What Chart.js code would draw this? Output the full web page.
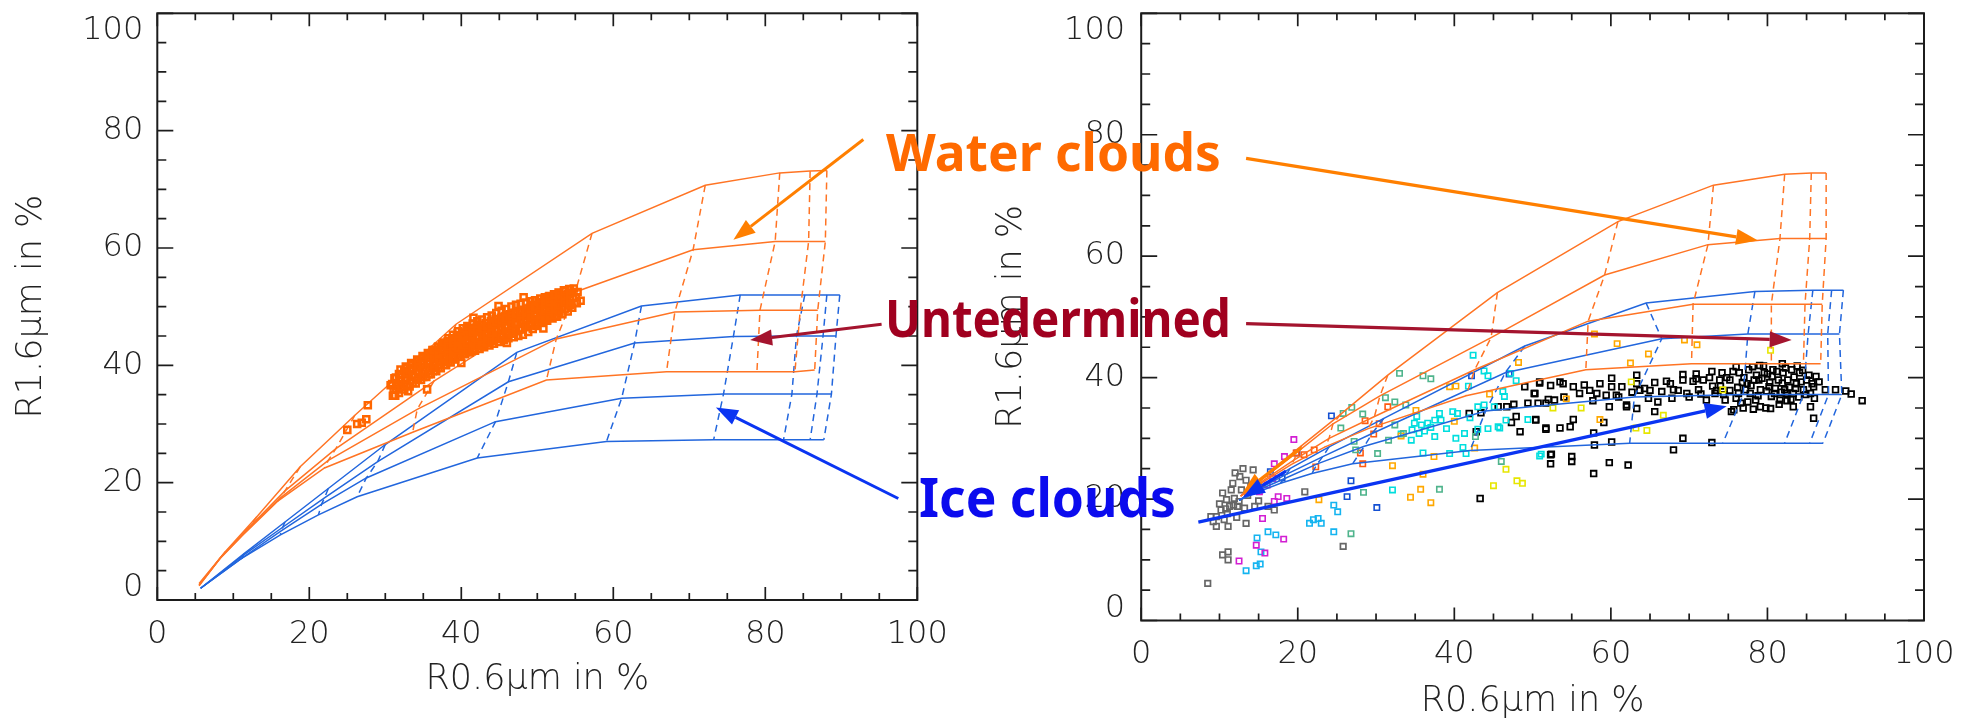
<!DOCTYPE html>
<html>
<head>
<meta charset="utf-8">
<script src="https://cdn.jsdelivr.net/npm/chart.js@4/dist/chart.umd.min.js"></script>
<style>
  html, body { margin:0; padding:0; background:#ffffff; width:1977px; height:720px; overflow:hidden; }
  #c1 { position:absolute; left:0; top:0; }
  #c2 { position:absolute; left:980px; top:0; }
  .lab { position:absolute; font-family:"Noto Sans", sans-serif; font-weight:700; white-space:nowrap; line-height:1; }
</style>
</head>
<body>
<canvas id="c1" width="980" height="720"></canvas>
<canvas id="c2" width="997" height="720"></canvas>
<script>
// ---------------- DATA ----------------
const tickValues = [0, 20, 40, 60, 80, 100];
const minorStep = 5;
const xTitle = 'R0.6\u03bcm in %';
const yTitle = 'R1.6\u03bcm in %';

// Left panel look-up table (solid: one radius per row; dashed: same column across rows)
const leftWaterX = [
  [5.5, 9.0, 13.1, 18.8, 26.0, 39.3, 57.2, 72.1, 81.9, 85.9, 88.1],
  [5.5, 8.5, 11.8, 16.8, 23.5, 36.4, 55.0, 70.5, 81.3, 85.7, 87.9],
  [5.5, 8.3, 11.4, 16.2, 22.5, 34.2, 52.5, 68.1, 79.3, 84.6, 86.9],
  [5.5, 8.2, 11.2, 15.8, 22.0, 33.6, 51.2, 67.0, 78.9, 83.9, 86.5]
];
const leftWaterY = [
  [2.8, 8.3, 14.2, 22.7, 31.5, 47.0, 62.5, 70.7, 72.8, 73.1, 73.2],
  [2.6, 7.5, 12.0, 18.6, 25.8, 37.3, 52.5, 59.7, 61.1, 61.1, 61.1],
  [2.5, 7.2, 11.4, 17.4, 23.8, 32.5, 44.5, 49.1, 49.4, 49.4, 49.4],
  [2.4, 7.0, 11.0, 16.8, 22.5, 28.6, 37.5, 38.9, 38.9, 38.9, 39.2]
];
const leftIceX = [
  [5.7, 11.5, 16.8, 22.5, 30.0, 47.3, 63.7, 76.7, 85.2, 88.1, 89.8],
  [5.7, 11.3, 16.5, 22.0, 29.0, 46.2, 62.8, 75.8, 84.1, 87.6, 89.3],
  [5.7, 11.2, 16.3, 21.6, 27.5, 44.5, 61.1, 74.5, 83.5, 86.8, 88.7],
  [5.7, 11.0, 16.2, 21.2, 26.3, 42.1, 59.1, 73.2, 82.4, 85.9, 87.7]
];
const leftIceY = [
  [2.0, 8.0, 13.3, 19.0, 26.5, 42.2, 50.1, 52.0, 52.0, 52.0, 52.0],
  [2.0, 7.6, 12.4, 17.4, 23.6, 37.2, 43.8, 44.9, 45.0, 45.0, 45.0],
  [2.0, 7.2, 11.8, 16.3, 20.8, 30.4, 34.4, 35.1, 35.1, 35.1, 35.1],
  [2.0, 7.0, 11.1, 14.5, 17.6, 24.2, 27.0, 27.3, 27.3, 27.3, 27.3]
];

// Right panel look-up table
const rightWaterX = [
  [12.7, 16.5, 20.5, 25.5, 31.5, 45.5, 60.9, 73.1, 82.2, 85.6, 87.5],
  [12.7, 16.2, 20.0, 24.5, 30.5, 44.7, 59.2, 72.4, 81.6, 85.4, 87.5],
  [12.7, 16.0, 19.5, 24.0, 29.8, 42.6, 57.1, 70.5, 80.5, 84.8, 87.0],
  [12.7, 15.8, 19.2, 23.5, 29.0, 41.5, 56.8, 70.3, 80.5, 84.6, 86.8]
];
const rightWaterY = [
  [20.5, 24.6, 28.8, 34.0, 40.4, 54.0, 65.7, 71.7, 73.5, 73.7, 73.7],
  [20.5, 24.0, 27.8, 32.4, 37.0, 46.6, 56.9, 61.9, 62.9, 62.9, 62.9],
  [20.5, 23.4, 26.4, 30.0, 33.6, 41.3, 49.3, 52.1, 52.1, 52.1, 52.1],
  [20.5, 23.0, 25.7, 28.6, 31.6, 37.0, 41.3, 42.3, 42.3, 42.3, 42.3]
];
const rightIceX = [
  [12.5, 15.5, 19.0, 24.0, 31.0, 49.0, 64.5, 78.4, 85.8, 88.2, 89.7],
  [12.5, 15.3, 18.6, 23.2, 29.5, 46.5, 66.5, 77.5, 85.2, 87.7, 89.2],
  [12.5, 15.0, 18.2, 22.5, 28.5, 44.0, 63.0, 76.9, 84.6, 87.8, 89.5],
  [12.5, 14.8, 17.8, 21.8, 27.0, 42.0, 62.4, 74.3, 82.2, 85.4, 87.1]
];
const rightIceY = [
  [19.8, 22.3, 25.0, 28.6, 33.3, 45.2, 52.3, 54.2, 54.4, 54.4, 54.4],
  [19.8, 21.9, 24.1, 27.0, 30.8, 40.8, 46.4, 47.2, 47.2, 47.2, 47.2],
  [19.8, 21.5, 23.3, 25.8, 28.7, 34.5, 36.8, 37.2, 37.2, 37.2, 37.2],
  [19.8, 21.1, 22.6, 24.2, 25.8, 28.0, 29.2, 29.2, 29.2, 29.2, 29.2]
];

// Left panel observations (water cloud pixels)
const leftObs = [
  [25.0,29.0],[26.3,30.0],[26.9,30.2],[27.5,30.8],[27.7,33.2],[30.7,36.6],[31.3,34.8],[33.0,35.6],
  [31.0,34.8],[31.1,35.9],[30.9,36.8],[31.2,37.8],
  [31.8,35.3],[31.7,36.4],[31.9,37.4],[31.8,38.5],[32.0,39.3],
  [32.5,35.9],[32.4,36.8],[32.6,37.9],[32.5,39.0],[32.7,39.8],
  [33.2,36.4],[33.3,37.4],[33.1,38.5],[33.2,39.6],[33.4,40.4],
  [34.0,36.9],[33.9,38.0],[34.1,39.1],[34.0,40.2],[34.2,41.0],
  [34.7,37.5],[34.8,38.6],[34.6,39.7],[34.7,40.8],[34.9,41.6],
  [35.4,38.0],[35.3,39.1],[35.5,40.2],[35.4,41.3],[35.6,42.1],
  [36.0,38.5],[36.1,39.6],[35.9,40.7],[36.0,41.8],[36.2,42.6],
  [36.7,39.0],[36.6,40.1],[36.8,41.2],[36.7,42.3],[36.9,43.1],
  [37.3,39.5],[37.4,40.6],[37.2,41.7],[37.3,42.8],[37.5,43.6],
  [38.0,40.0],[37.9,41.1],[38.1,42.2],[38.0,43.3],[38.2,44.1],
  [38.6,40.5],[38.7,41.6],[38.5,42.7],[38.6,43.8],[38.8,44.6],
  [39.2,41.0],[39.1,42.1],[39.3,43.2],[39.2,44.3],[39.4,45.1],
  [39.9,41.5],[40.0,42.6],[39.8,43.7],[39.9,44.8],[40.1,45.6],
  [40.5,41.9],[40.4,43.0],[40.6,44.1],[40.5,45.2],[40.7,46.0],
  [41.1,42.2],[41.2,43.3],[41.0,44.4],[41.1,45.5],[41.3,46.3],
  [41.8,42.5],[41.7,43.6],[41.9,44.7],[41.8,45.8],[42.0,46.6],
  [42.4,42.8],[42.5,43.9],[42.3,45.0],[42.4,46.1],[42.6,46.9],
  [43.0,43.1],[42.9,44.2],[43.1,45.3],[43.0,46.4],[43.2,47.2],
  [43.7,43.4],[43.8,44.5],[43.6,45.6],[43.7,46.7],[43.9,47.5],
  [44.3,43.7],[44.2,44.8],[44.4,45.9],[44.3,47.0],[44.5,47.8],
  [45.0,44.0],[45.1,45.1],[44.9,46.2],[45.0,47.3],[45.2,48.1],
  [45.6,44.3],[45.5,45.4],[45.7,46.5],[45.6,47.6],[45.8,48.4],
  [46.2,44.6],[46.3,45.7],[46.1,46.8],[46.2,47.9],[46.4,48.7],
  [46.9,44.8],[46.8,45.9],[47.0,47.0],[46.9,48.1],[47.1,48.9],
  [47.5,45.0],[47.6,46.1],[47.4,47.2],[47.5,48.3],[47.7,49.1],
  [48.1,45.2],[48.0,46.3],[48.2,47.4],[48.1,48.5],[48.3,49.3],
  [48.8,45.7],[48.9,46.8],[48.7,47.9],[48.8,49.0],[49.0,49.8],
  [49.4,46.2],[49.3,47.3],[49.5,48.4],[49.4,49.5],[49.6,50.3],
  [50.0,46.7],[50.1,47.8],[49.9,48.9],[50.0,50.0],[50.2,50.8],
  [50.7,47.2],[50.6,48.3],[50.8,49.4],[50.7,50.5],[50.9,51.3],
  [51.3,47.6],[51.4,48.7],[51.2,49.8],[51.3,50.9],[51.5,51.7],
  [52.0,48.0],[51.9,49.1],[52.1,50.2],[52.0,51.3],[52.2,52.1],
  [52.6,48.3],[52.7,49.4],[52.5,50.5],[52.6,51.6],[52.8,52.4],
  [53.3,48.7],[53.2,49.8],[53.4,50.9],[53.3,52.0],[53.5,52.8],
  [54.0,49.2],[54.1,50.2],[53.9,51.2],[54.0,52.2],[54.2,53.0],
  [54.6,49.8],[54.5,50.6],[54.7,51.5],[54.6,52.4],[54.8,53.1],
  [55.2,50.6],[55.1,51.6],[55.3,52.5],[55.7,51.0],[50.8,46.3],
  [31.4,35.9],[31.4,36.9],[31.4,37.9],[32.1,36.3],[32.1,37.3],[32.1,38.4],
  [32.8,36.6],[32.8,37.6],[32.8,38.7],[32.8,39.5],[33.6,37.0],[33.6,38.1],[33.6,39.1],[33.6,40.1],
  [34.3,37.6],[34.3,38.6],[34.3,39.7],[34.3,40.7],[35.0,38.0],[35.0,39.1],[35.0,40.2],[35.0,41.2],
  [35.7,38.5],[35.7,39.6],[35.7,40.8],[35.7,41.9],[36.4,39.1],[36.4,40.2],[36.4,41.4],[36.4,42.6],
  [37.0,39.6],[37.0,40.8],[37.0,42.0],[37.0,43.2],[37.7,40.1],[37.7,41.4],[37.7,42.7],[37.7,43.9],
  [38.3,40.6],[38.3,41.9],[38.3,43.2],[38.3,44.6],[38.9,41.1],[38.9,42.4],[38.9,43.8],[38.9,45.2],
  [39.6,41.5],[39.6,42.9],[39.6,44.3],[39.6,45.8],[40.2,42.0],[40.2,43.4],[40.2,44.8],[40.2,46.3],
  [40.8,42.4],[40.8,43.8],[40.8,45.2],[40.8,46.7],[41.5,42.8],[41.5,44.2],[41.5,45.6],[41.5,47.1],
  [42.1,43.2],[42.1,44.6],[42.1,46.0],[42.1,47.5],[42.7,43.5],[42.7,44.9],[42.7,46.3],[42.7,47.8],
  [43.4,43.8],[43.4,45.2],[43.4,46.7],[43.4,48.2],[44.0,44.1],[44.0,45.5],[44.0,47.0],[44.0,48.5],
  [44.6,44.5],[44.6,45.9],[44.6,47.4],[44.6,48.9],[45.3,44.8],[45.3,46.2],[45.3,47.7],[45.3,49.3],
  [45.9,45.1],[45.9,46.5],[45.9,48.0],[45.9,49.6],[46.6,45.4],[46.6,46.9],[46.6,48.4],[46.6,50.0],
  [47.2,45.8],[47.2,47.2],[47.2,48.7],[47.2,50.3],[47.8,46.1],[47.8,47.5],[47.8,49.0],[47.8,50.5],
  [48.5,46.5],[48.5,47.9],[48.5,49.3],[48.5,50.7],[49.1,46.8],[49.1,48.2],[49.1,49.6],[49.1,50.9],
  [49.7,47.1],[49.7,48.5],[49.7,49.9],[49.7,51.1],[50.4,47.5],[50.4,48.8],[50.4,50.2],[50.4,51.4],
  [51.0,47.9],[51.0,49.2],[51.0,50.5],[51.0,51.6],[51.6,48.2],[51.6,49.5],[51.6,50.8],[51.6,51.8],
  [52.3,48.5],[52.3,49.8],[52.3,51.1],[52.3,52.0],[52.9,49.0],[52.9,50.2],[52.9,51.4],[52.9,52.3],
  [53.6,49.6],[53.6,50.7],[53.6,51.8],[53.6,52.6],[54.3,50.3],[54.3,51.2],[54.3,52.1],[54.3,52.9],
  [44.9,50.1],[48.2,51.6],[41.6,48.1],[35.5,35.9],[40.0,40.4],[46.0,43.8]
];

// Right panel observations, one list per colour class
const rightGray = [
  [14.3,24.8],[12.6,23.7],[13.4,23.1],[11.5,21.5],[12.8,21.5],[10.9,19.9],[11.9,20.1],[10.2,18.2],
  [11.3,18.8],[12.3,18.8],[13.2,18.5],[9.6,17.1],[10.6,16.6],[11.1,15.5],[9.6,15.5],[8.9,17.1],
  [13.4,16.0],[14.5,18.8],[16.2,18.8],[17.0,18.2],[10.4,10.8],[11.1,11.3],[11.1,10.0],[8.5,6.1],
  [20.9,21.2],[25.8,12.2],[11.7,22.6],[12.0,24.3],[13.0,25.0],[10.4,21.0],[11.0,17.6],[12.2,17.0],
  [10.0,19.2],[13.6,20.6],[14.0,22.0],[12.5,19.6],[9.2,16.3],[15.0,19.7],[11.8,19.0],[10.8,18.4]
];
const rightMagenta = [
  [19.5,29.8],[18.3,27.0],[17.0,25.8],[16.8,23.4],[16.1,22.3],[15.1,21.2],[17.5,20.4],[18.6,20.1],
  [17.0,19.6],[15.5,16.8],[14.7,12.4],[15.8,11.1],[18.2,13.4],[12.5,9.8]
];
const rightSky = [
  [16.2,14.6],[17.2,14.1],[14.8,13.6],[15.3,11.3],[14.7,9.0],[15.2,9.3],[13.4,8.2],[21.5,16.0],
  [22.6,16.8],[23.0,16.0],[22.0,16.6],[24.6,19.0],[25.1,17.9],[24.6,14.6]
];
const rightTeal = [
  [33.0,40.7],[36.0,40.3],[37.0,39.8],[25.8,34.1],[26.9,35.1],[28.3,34.0],[31.2,36.7],[32.4,36.0],
  [33.8,35.5],[25.5,31.7],[27.2,29.5],[27.4,28.1],[30.2,27.5],[31.6,29.7],[32.4,32.2],[33.5,30.8],
  [28.4,21.1],[38.1,21.6],[26.8,14.3],[42.7,30.3],[46.0,26.2]
];
const rightRedOrange = [
  [22.3,25.3],[28.3,25.8],[29.7,30.7],[30.4,32.4],[28.6,32.9],[31.5,35.2],[19.8,27.6],[20.8,27.3],
  [22.1,28.1],[28.0,27.6]
];
const rightGold = [
  [48.2,42.5],[40.2,38.6],[39.4,38.5],[37.4,27.0],[36.0,24.1],[35.7,21.6],[34.4,20.3],[37.0,19.4],
  [32.1,25.5],[33.2,30.4],[22.7,19.9],[44.5,37.3],[42.6,28.4],[35.1,34.6],[40.0,32.8],[58.6,33.1],
  [54.3,36.5],[57.9,47.2],[60.8,45.6],[64.8,43.9],[62.5,42.4],[69.4,46.2],[71.0,45.4]
];
const rightCyan = [
  [42.4,43.7],[43.8,41.1],[44.3,40.3],[47.2,40.7],[47.9,39.5],[41.8,38.6],[38.1,34.1],[39.8,34.4],
  [40.4,34.1],[43.0,35.2],[43.8,35.5],[45.1,35.2],[46.2,37.7],[46.4,36.9],[45.6,31.9],[44.3,31.6],
  [43.0,31.5],[41.3,30.8],[37.5,33.0],[38.3,33.0],[36.6,32.5],[35.8,32.2],[34.9,32.5],[34.6,31.4],
  [35.5,30.8],[37.5,30.3],[34.5,29.7],[33.2,30.7],[41.1,28.5],[41.5,27.5],[39.4,27.5],[36.0,27.6],
  [32.1,21.5],[51.1,27.4],[49.4,33.1],[45.8,31.7],[46.6,33.0],[50.9,27.1],[36.2,31.2],[37.0,31.8],
  [39.0,31.6],[40.2,30.0],[35.2,33.6],[42.0,33.4]
];
const rightBlue = [
  [24.3,33.7],[19.9,27.6],[42.2,40.3],[47.0,40.6],[26.3,20.4],[26.8,23.0],[30.1,18.6],[16.5,24.5],[18.0,23.5]
];
const rightYellow = [
  [45.0,22.2],[46.6,24.9],[48.0,23.0],[48.7,22.6],[80.4,44.5],[74.3,38.0],[62.6,39.3],[66.7,33.8],
  [63.2,31.7],[64.6,31.3],[52.6,35.0],[56.2,35.0]
];
const rightBlack = [
  [49.0,38.5],[50.2,37.4],[50.9,39.1],[52.3,38.7],[53.5,39.3],[49.4,35.8],[50.7,35.8],[51.7,35.8],
  [52.8,36.3],[46.7,35.2],[47.6,35.6],[47.9,33.6],[50.4,33.0],[51.7,31.7],[48.4,31.1],[47.3,32.6],
  [41.9,34.1],[42.8,31.1],[43.4,34.2],[52.4,27.4],[52.3,25.8],[43.3,20.1],[45.6,35.2],[50.9,39.3],
  [50.3,37.4],[52.0,36.4],[53.9,39.0],[55.2,38.5],[56.0,37.4],[57.3,37.9],[58.2,37.4],[59.4,37.1],
  [60.1,39.9],[60.7,37.1],[61.4,38.5],[62.0,35.5],[63.3,40.4],[63.7,37.9],[64.3,38.2],[64.8,36.6],
  [65.6,39.2],[66.5,37.7],[67.1,39.4],[68.0,38.0],[69.2,39.6],[69.7,37.4],[70.5,39.4],[71.2,38.0],
  [71.8,39.6],[72.2,36.3],[72.9,41.0],[73.3,37.4],[58.6,39.0],[60.1,38.5],[63.3,39.0],[67.6,39.0],
  [69.2,40.5],[70.9,39.8],[70.9,40.6],[55.2,33.1],[54.8,31.9],[53.5,31.7],[51.7,31.5],[50.4,33.1],
  [57.8,30.9],[59.1,32.6],[59.8,35.2],[62.0,35.2],[63.3,34.9],[65.6,34.4],[72.9,29.3],[69.2,30.0],
  [68.0,28.1],[62.2,25.6],[59.8,26.0],[60.1,29.4],[57.8,24.2],[57.9,28.9],[55.0,27.0],[55.0,26.2],
  [52.3,27.3],[54.0,36.8],[56.6,38.8],[57.7,36.2],[61.0,36.8],[62.7,37.6],[65.0,37.9],[66.0,36.0],
  [67.8,36.6],[68.6,37.9],[70.0,36.8],[71.5,37.3],
  [74.2,40.8],[74.6,36.3],[75.2,39.6],[75.7,34.7],[76.4,40.8],[76.6,35.8],[77.2,38.0],[77.6,41.3],
  [78.3,39.6],[78.5,36.3],[79.1,38.0],[79.6,40.8],[79.8,35.0],[80.2,38.5],[80.7,41.3],[80.9,37.4],
  [81.4,39.6],[81.6,36.3],[82.0,40.8],[82.2,38.0],[82.6,39.6],[83.1,41.3],[83.3,37.4],[83.7,39.0],
  [84.1,40.8],[84.6,38.0],[85.0,39.6],[85.5,37.4],[85.9,38.5],[86.6,39.3],[87.4,38.0],[88.7,38.0],
  [90.0,37.8],[90.7,37.3],[92.1,36.2],[85.5,35.2],[85.9,33.3],[83.3,35.2],[79.1,35.2],[76.9,35.0],
  [75.4,34.4],[73.9,39.6],[73.5,37.9],[76.3,37.4],[75.2,37.9],[77.8,37.4],[78.9,39.6],[80.5,36.9],
  [77.5,36.0],[82.4,37.4],[74.0,38.6],[74.8,40.0],[75.6,41.0],[76.0,36.6],[76.8,39.2],[77.0,40.0],
  [77.9,38.7],[78.1,41.8],[78.8,37.0],[79.3,39.9],[79.5,41.9],[79.9,37.8],[80.3,39.2],[80.6,40.2],
  [81.0,38.2],[81.2,41.0],[81.8,37.6],[81.9,39.1],[82.3,41.6],[82.8,38.4],[83.0,36.4],[83.4,40.1],
  [83.6,38.2],[84.0,36.8],[84.3,39.3],[84.5,41.2],[84.9,37.2],[85.3,40.4],[85.7,39.0],[86.2,40.2],
  [86.0,36.6],[76.2,38.4],[77.4,39.0],[78.6,40.4],[80.0,40.6],[82.5,36.2],[81.5,35.6],[80.4,34.9],
  [78.2,34.8],[76.0,41.8],[73.0,38.6],[72.6,40.0],[74.4,37.2],[79.0,42.0],[81.9,42.3],[83.8,41.9]
];

// Annotation arrows, in each panel's data units: [fromX, fromY, toX, toY]
const leftArrowWater = [92.9, 78.5, 75.8, 61.4];
const leftArrowUndet = [95.3, 47.0, 78.0, 44.3];
const leftArrowIce   = [97.5, 17.3, 73.5, 32.8];
const rightArrowWater = [13.4, 76.1, 78.8, 62.6];
const rightArrowUndet = [13.4, 48.9, 83.1, 46.2];
const rightArrowIce   = [7.3, 16.2, 74.8, 35.3];
const rightArrowWaterStart = [20.5, 28.5, 12.9, 20.9];
const rightArrowIceStart   = [18.5, 24.6, 13.0, 20.3];

// ---------------- STYLE ----------------
const C = {
  lutWater: '#ff7424', lutIce: '#2266dd', obsOrange: '#ff6600',
  arrWater: '#ff7f00', arrUndet: '#a4142e', arrIce: '#0a34f2',
  axis: '#1c1c1c'
};
const tickFont = { family: '"DejaVu Sans", sans-serif', size: 32, weight: '200' };
const titleFont = { family: '"DejaVu Sans", sans-serif', size: 35, weight: '200' };
const endLabelShift = { '100': 17, '0': -12 };

function lutSets(X, Y, color, order) {
  const out = [];
  X.forEach((xs, k) => {
    out.push({ data: xs.map((v, i) => ({ x: v, y: Y[k][i] })), showLine: true, borderColor: color,
      borderWidth: 1.5, pointRadius: 0, tension: 0, fill: false, order });
  });
  for (let j = 1; j < X[0].length; j++) {
    out.push({ data: X.map((xs, k) => ({ x: xs[j], y: Y[k][j] })), showLine: true, borderColor: color,
      borderWidth: 1.5, borderDash: [7, 5], pointRadius: 0, tension: 0, fill: false, order });
  }
  return out;
}
function pointSet(list, color, r, bw, order) {
  return { data: list.map(p => ({ x: p[0], y: p[1] })), showLine: false, pointStyle: 'rect',
    pointRadius: r, pointBorderColor: color, pointBackgroundColor: 'rgba(0,0,0,0)',
    pointBorderWidth: bw, order };
}

const framePlugin = {
  id: 'frame',
  beforeDraw(chart) {
    // IDL-style: the end labels of the y axis sit inside the frame
    const s = chart.scales.y;
    const items = s.getLabelItems(chart.chartArea);
    items.forEach(it => {
      if (it._shifted) return;
      const d = endLabelShift[String(it.label)];
      if (d) it.options.translation[1] += d;
      it._shifted = true;
    });
  },
  afterDatasetsDraw(chart) {
    const { ctx, chartArea: a, scales: { x, y } } = chart;
    ctx.save();
    ctx.strokeStyle = C.axis;
    ctx.lineWidth = 2;
    ctx.strokeRect(a.left, a.top, a.right - a.left, a.bottom - a.top);
    ctx.lineWidth = 1.7;
    ctx.beginPath();
    for (let v = 0; v <= 100; v += minorStep) {
      const major = tickValues.includes(v);
      const px = x.getPixelForValue(v);
      const lx = major ? 13 : 7;
      ctx.moveTo(px, a.bottom); ctx.lineTo(px, a.bottom - lx);
      ctx.moveTo(px, a.top); ctx.lineTo(px, a.top + lx);
      const py = y.getPixelForValue(v);
      const ly = major ? 16 : 9;
      ctx.moveTo(a.left, py); ctx.lineTo(a.left + ly, py);
      ctx.moveTo(a.right, py); ctx.lineTo(a.right - ly, py);
    }
    ctx.stroke();
    ctx.restore();
  }
};

function arrowPlugin(list) {
  return {
    id: 'arrows',
    afterDraw(chart) {
      const { ctx, scales: { x, y } } = chart;
      ctx.save();
      list.forEach(([a, color, w]) => {
        const x0 = x.getPixelForValue(a[0]), y0 = y.getPixelForValue(a[1]);
        const x1 = x.getPixelForValue(a[2]), y1 = y.getPixelForValue(a[3]);
        const ang = Math.atan2(y1 - y0, x1 - x0);
        const L = 22, H = 8;
        const bx = x1 - L * Math.cos(ang), by = y1 - L * Math.sin(ang);
        ctx.strokeStyle = color; ctx.fillStyle = color; ctx.lineWidth = w; ctx.lineCap = 'butt';
        ctx.beginPath(); ctx.moveTo(x0, y0); ctx.lineTo(bx, by); ctx.stroke();
        ctx.beginPath();
        ctx.moveTo(x1, y1);
        ctx.lineTo(bx + H * Math.sin(ang), by - H * Math.cos(ang));
        ctx.lineTo(bx - H * Math.sin(ang), by + H * Math.cos(ang));
        ctx.closePath(); ctx.fill();
      });
      ctx.restore();
    }
  };
}

function makeChart(id, datasets, lay, arrows) {
  return new Chart(document.getElementById(id), {
    type: 'scatter',
    data: { datasets },
    options: {
      responsive: false, animation: false, events: [],
      layout: { padding: { left: 0, top: lay.top, right: lay.right, bottom: 0 } },
      plugins: { legend: { display: false }, tooltip: { enabled: false } },
      scales: {
        x: {
          type: 'linear', position: 'bottom', min: 0, max: 100,
          afterBuildTicks: s => { s.ticks = tickValues.map(v => ({ value: v })); },
          afterFit: s => { s.height = lay.xH; s.paddingLeft = 0; s.paddingRight = 0; },
          grid: { display: false, drawTicks: false }, border: { display: false },
          ticks: { padding: lay.xTickPad, color: '#222', font: tickFont, maxRotation: 0, autoSkip: false },
          title: { display: true, text: xTitle, color: '#222', font: titleFont, padding: { top: 0, bottom: lay.xTitlePad } }
        },
        y: {
          type: 'linear', position: 'left', min: 0, max: 100,
          afterBuildTicks: s => { s.ticks = tickValues.map(v => ({ value: v })); },
          afterFit: s => { s.width = lay.yW; s.paddingTop = 0; s.paddingBottom = 0; },
          grid: { display: false, drawTicks: false }, border: { display: false },
          ticks: { padding: lay.yTickPad, color: '#222', font: tickFont, autoSkip: false },
          title: { display: true, text: yTitle, color: '#222', font: titleFont, padding: { top: lay.yTitlePad, bottom: 0 } }
        }
      }
    },
    plugins: [framePlugin, arrowPlugin(arrows)]
  });
}

// Left panel
const leftSets = [].concat(
  lutSets(leftWaterX, leftWaterY, C.lutWater, 1),
  lutSets(leftIceX, leftIceY, C.lutIce, 1),
  [pointSet(leftObs, C.obsOrange, 4.3, 2.5, 0)]
);
makeChart('c1', leftSets,
  { top: 13.3, right: 62.7, xH: 120, yW: 157.3, xTickPad: 15, yTickPad: 14, xTitlePad: 19, yTitlePad: 11 },
  [[leftArrowWater, C.arrWater, 3], [leftArrowUndet, C.arrUndet, 3], [leftArrowIce, C.arrIce, 3]]);

// Right panel
const rightSets = [].concat(
  lutSets(rightWaterX, rightWaterY, C.lutWater, 0),
  lutSets(rightIceX, rightIceY, C.lutIce, 0),
  [
    pointSet(rightGray, '#666666', 3.9, 1.7, 1),
    pointSet(rightMagenta, '#d21ed2', 3.8, 1.6, 1),
    pointSet(rightSky, '#14b4f0', 3.8, 1.6, 1),
    pointSet(rightTeal, '#4fb48c', 3.8, 1.6, 1),
    pointSet(rightRedOrange, '#ff5a10', 3.8, 1.6, 1),
    pointSet(rightGold, '#ffa800', 3.8, 1.6, 1),
    pointSet(rightCyan, '#00dede', 3.8, 1.6, 1),
    pointSet(rightBlue, '#1450d2', 3.8, 1.6, 1),
    pointSet(rightYellow, '#e6e600', 3.8, 1.6, 1),
    pointSet(rightBlack, '#000000', 4.0, 1.8, 1)
  ]
);
makeChart('c2', rightSets,
  { top: 13.3, right: 53, xH: 99.5, yW: 161.2, xTickPad: 15, yTickPad: 16, xTitlePad: -3, yTitlePad: 11 },
  [[rightArrowWater, C.arrWater, 3.2], [rightArrowUndet, C.arrUndet, 3.2], [rightArrowIce, C.arrIce, 3.2],
   [rightArrowWaterStart, C.arrWater, 3.2], [rightArrowIceStart, C.arrIce, 3.2]]);

// Overlay annotation labels (real text)
const labels = [
  { text: 'Water clouds', color: '#ff6a00', x0: 886, x1: 1221, base: 172 },
  { text: 'Untedermined', color: '#a0001f', x0: 885, x1: 1231, base: 337 },
  { text: 'Ice clouds', color: '#0b0bee', x0: 919, x1: 1176, base: 518 }
];
const mctx = document.createElement('canvas').getContext('2d');
labels.forEach(l => {
  mctx.font = '700 100px "Noto Sans"';
  const w100 = mctx.measureText(l.text).width;
  const size = 100 * (l.x1 - l.x0) / w100;
  mctx.font = `700 ${size}px "Noto Sans"`;
  const m = mctx.measureText(l.text);
  const asc = m.fontBoundingBoxAscent, desc = m.fontBoundingBoxDescent;
  const baseOff = (size + asc - desc) / 2;
  const ascender = mctx.measureText('dl').actualBoundingBoxAscent;
  const k = 41 / ascender;
  const d = document.createElement('div');
  d.className = 'lab';
  d.textContent = l.text;
  d.style.color = l.color;
  d.style.fontSize = size + 'px';
  d.style.left = l.x0 + 'px';
  d.style.top = (l.base - baseOff) + 'px';
  d.style.transformOrigin = `0 ${baseOff}px`;
  d.style.transform = `scaleY(${k})`;
  document.body.appendChild(d);
});
</script>
</body>
</html>
